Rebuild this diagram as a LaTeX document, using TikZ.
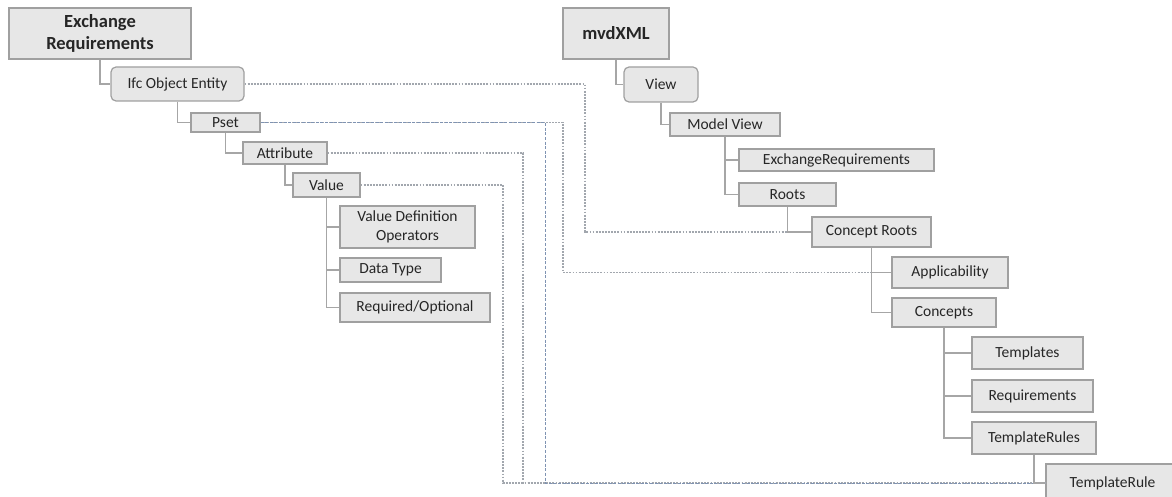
\documentclass[tikz,border=0pt]{standalone}
\usepackage{fontspec}
\setmainfont{Carlito}
\definecolor{boxfill}{HTML}{E7E7E7}
\definecolor{boxline}{HTML}{A0A0A0}
\definecolor{treeline}{HTML}{A6A6A6}
\definecolor{dotgray}{HTML}{A2A7AE}
\definecolor{dotblue}{HTML}{7F93B2}
\definecolor{ink}{HTML}{262626}
\begin{document}
\begin{tikzpicture}[x=1pt,y=-1pt,
  box/.style={draw=boxline,fill=boxfill,line width=1.2pt,inner sep=0pt,
    font=\fontsize{15.5}{19}\selectfont,text=ink,align=center,anchor=center},
  roundbox/.style={box,rounded corners=5pt},
  titlebox/.style={box,font=\fontsize{18.5}{22}\selectfont\bfseries},
  tree/.style={draw=treeline,line width=1.4pt},
  dotline/.style={draw=dotgray,line width=1.1pt,dash pattern=on 1.8pt off 1.3pt},
  blueline/.style={draw=dotblue,line width=1.0pt,dash pattern=on 3pt off 1.6pt}]
\clip (0,0) rectangle (1172,497);
\fill[white] (0,0) rectangle (1172,497);

% vertical lanes of the cross links
\coordinate (laneA) at (585,0);
\coordinate (laneB) at (563,0);
\coordinate (laneC) at (545,0);
\coordinate (laneD) at (523,0);
\coordinate (laneE) at (503,0);

% left tree: exchange requirements
\node[titlebox,minimum width=182pt,minimum height=51pt] (er) at (100,33.5) {Exchange\\Requirements};
\node[roundbox,minimum width=133pt,minimum height=34pt] (ifc) at (177.5,84) {Ifc Object Entity};
\node[box,minimum width=69pt,minimum height=19pt] (pset) at (225.5,122.5) {Pset};
\node[box,minimum width=84pt,minimum height=22pt] (attr) at (285,153) {Attribute};
\node[box,minimum width=67pt,minimum height=24pt] (value) at (326.5,185) {Value};
\node[box,minimum width=135pt,minimum height=42pt] (vdo) at (407.5,227) {Value Definition\\Operators};
\node[box,minimum width=101pt,minimum height=24pt] (dtype) at (390.5,270) {Data Type};
\node[box,minimum width=150pt,minimum height=29pt] (reqopt) at (415,307.5) {Required/Optional};

% right tree: mvdXML
\node[titlebox,minimum width=106pt,minimum height=51pt] (mvd) at (616,33.5) {mvdXML};
\node[roundbox,minimum width=74pt,minimum height=35pt] (view) at (661,84.5) {View};
\node[box,minimum width=110pt,minimum height=23pt] (mview) at (725,124.5) {Model View};
\node[box,minimum width=195pt,minimum height=22pt] (exreq) at (836.5,160) {ExchangeRequirements};
\node[box,minimum width=97pt,minimum height=23pt] (roots) at (787.5,194.5) {Roots};
\node[box,minimum width=119pt,minimum height=30pt] (croots) at (871.5,232) {Concept Roots};
\node[box,minimum width=116pt,minimum height=31pt] (appl) at (950,272.5) {Applicability};
\node[box,minimum width=104pt,minimum height=29pt] (concepts) at (944,312.5) {Concepts};
\node[box,minimum width=111pt,minimum height=32pt] (templates) at (1027.5,353) {Templates};
\node[box,minimum width=121pt,minimum height=32pt] (reqs) at (1032.5,396) {Requirements};
\node[box,minimum width=124pt,minimum height=32pt] (trules) at (1034,438) {TemplateRules};
\node[box,minimum width=133pt,minimum height=38pt] (trule) at (1112.5,483) {TemplateRule};

% cross links between the two trees
\draw[dotline] (ifc.east) -- (ifc.east -| laneA) |- (croots.west);
\draw[dotline] (pset.east) -- (pset.east -| laneB) |- (appl.west);
\draw[dotline] (attr.east) -- (attr.east -| laneD) |- (trule.west);
\draw[dotline] (value.east) -- (value.east -| laneE) |- (trule.west);
\draw[blueline] (pset.east) -- (pset.east -| laneC) |- (trule.west);

% tree connectors
\draw[tree] (er.south) |- (ifc.west);
\draw[tree] (ifc.south) |- (pset.west);
\draw[tree] (pset.south) |- (attr.west);
\draw[tree] (attr.south) |- (value.west);
\draw[tree] (value.south) |- (vdo.west);
\draw[tree] (value.south) |- (dtype.west);
\draw[tree] (value.south) |- (reqopt.west);
\draw[tree] (mvd.south) |- (view.west);
\draw[tree] (view.south) |- (mview.west);
\draw[tree] (mview.south) |- (exreq.west);
\draw[tree] (mview.south) |- (roots.west);
\draw[tree] (roots.south) |- (croots.west);
\draw[tree] (croots.south) |- (appl.west);
\draw[tree] (croots.south) |- (concepts.west);
\draw[tree] (concepts.south) |- (templates.west);
\draw[tree] (concepts.south) |- (reqs.west);
\draw[tree] (concepts.south) |- (trules.west);
\draw[tree] (trules.south) |- (trule.west);
\end{tikzpicture}
\end{document}
